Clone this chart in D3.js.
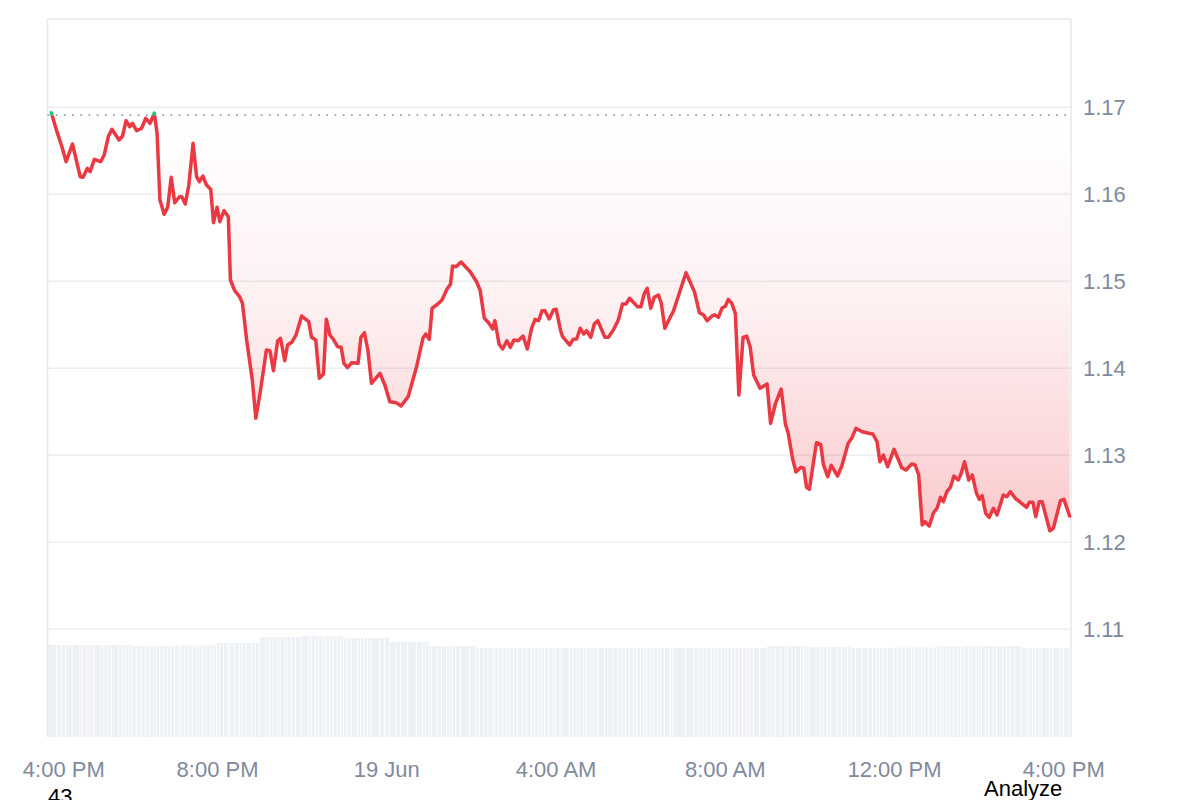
<!DOCTYPE html>
<html>
<head>
<meta charset="utf-8">
<script src="https://cdn.jsdelivr.net/npm/d3@7"></script>
<style>
  html, body { margin: 0; padding: 0; background: #fff; }
  svg { display: block; font-family: "Liberation Sans", Arial, sans-serif; }
</style>
</head>
<body>
<svg id="chart" width="1200" height="800"></svg>
<script>
// ---- data (minutes after 18 Jun 4:00 PM) ----
const minutes = [5,13,20,26,35,46,50,56,60,66,75,80,86,91,101,106,111,116,120,126,133,139,145,151,155,159,165,170,175,180,187,190,195,200,206,211,215,220,225,231,235,240,244,250,256,259,265,272,276,282,290,295,301,310,315,320,326,330,336,340,346,352,360,370,374,380,385,391,395,400,405,411,416,420,425,431,440,444,449,454,459,471,478,485,494,501,511,523,532,536,541,545,553,559,566,571,574,579,586,599,608,613,619,625,631,634,640,645,651,656,661,667,674,680,686,691,696,701,705,711,717,721,727,730,740,745,750,755,760,764,770,775,780,790,795,802,809,815,820,825,831,836,841,846,850,855,860,866,870,875,883,887,905,917,924,930,935,942,946,951,956,961,965,970,975,980,986,991,996,1001,1010,1020,1025,1032,1040,1046,1050,1056,1061,1068,1072,1076,1080,1090,1096,1100,1106,1111,1120,1126,1135,1140,1146,1155,1164,1170,1176,1180,1185,1191,1200,1206,1211,1217,1225,1230,1235,1240,1244,1250,1256,1261,1266,1270,1275,1280,1285,1291,1295,1300,1306,1311,1317,1321,1325,1330,1335,1341,1346,1355,1360,1365,1372,1381,1388,1392,1397,1401,1406,1410,1421,1426,1436,1441,1449];
const prices = [1.16938,1.16720,1.16547,1.16375,1.16578,1.16202,1.16195,1.16299,1.16260,1.16402,1.16375,1.16452,1.16670,1.16747,1.16624,1.16670,1.16846,1.16777,1.16816,1.16731,1.16759,1.16874,1.16816,1.16934,1.16701,1.15934,1.15770,1.15851,1.16195,1.15903,1.15972,1.15972,1.15889,1.16107,1.16586,1.16202,1.16145,1.16210,1.16107,1.16057,1.15674,1.15851,1.15685,1.15812,1.15743,1.15015,1.14892,1.14823,1.14747,1.14325,1.13866,1.13425,1.13713,1.14210,1.14202,1.13972,1.14317,1.14345,1.14087,1.14268,1.14299,1.14383,1.14601,1.14536,1.14356,1.14325,1.13885,1.13935,1.14563,1.14383,1.14333,1.14248,1.14241,1.14057,1.14007,1.14064,1.14057,1.14356,1.14409,1.14202,1.13828,1.13943,1.13808,1.13616,1.13605,1.13567,1.13674,1.14018,1.14345,1.14394,1.14333,1.14690,1.14739,1.14785,1.14908,1.14966,1.15176,1.15168,1.15222,1.15110,1.14995,1.14900,1.14575,1.14524,1.14452,1.14547,1.14276,1.14222,1.14317,1.14241,1.14325,1.14317,1.14371,1.14222,1.14460,1.14563,1.14547,1.14662,1.14662,1.14567,1.14670,1.14678,1.14440,1.14363,1.14268,1.14333,1.14337,1.14460,1.14394,1.14432,1.14356,1.14509,1.14547,1.14356,1.14356,1.14440,1.14555,1.14739,1.14739,1.14805,1.14754,1.14708,1.14708,1.14862,1.14920,1.14690,1.14816,1.14843,1.14747,1.14460,1.14593,1.14651,1.15099,1.14880,1.14639,1.14613,1.14547,1.14601,1.14613,1.14586,1.14690,1.14716,1.14793,1.14747,1.14632,1.13693,1.14356,1.14371,1.14248,1.13923,1.13770,1.13820,1.13368,1.13598,1.13762,1.13360,1.13253,1.12966,1.12808,1.12862,1.12851,1.12632,1.12609,1.13145,1.13126,1.12889,1.12754,1.12885,1.12762,1.12877,1.13138,1.13195,1.13310,1.13271,1.13253,1.13245,1.13156,1.12926,1.13003,1.12869,1.13069,1.12954,1.12857,1.12831,1.12900,1.12889,1.12774,1.12199,1.12237,1.12187,1.12340,1.12391,1.12517,1.12467,1.12582,1.12632,1.12762,1.12716,1.12785,1.12926,1.12716,1.12774,1.12563,1.12494,1.12536,1.12333,1.12287,1.12391,1.12314,1.12544,1.12524,1.12582,1.12506,1.12448,1.12402,1.12460,1.12460,1.12294,1.12467,1.12467,1.12133,1.12161,1.12478,1.12494,1.12302];
const referencePrice = 1.1691;
// hourly volume (arbitrary units), hour 0 = 4 PM
const volumeHours = [0,1,2,3,4,5,6,7,8,9,10,11,12,13,14,15,16,17,18,19,20,21,22,23,24];
const volumes = [9.12,9.12,9.02,9.07,9.31,9.91,10.01,9.81,9.42,9.02,8.82,8.82,8.82,8.82,8.82,8.82,8.82,9.02,8.92,8.82,8.87,9.02,9.02,8.82,8.82];
const yTicks = [1.11,1.12,1.13,1.14,1.15,1.16,1.17];
const startTime = new Date(2025, 5, 18, 16, 0);
const endMinutes = 1451;

// ---- layout ----
const L = 47.5, R = 1071, T = 19, B = 737;
const svg = d3.select("#chart");
const toDate = m => new Date(startTime.getTime() + m * 60000);
const data = minutes.map((m, i) => ({ t: toDate(m), p: prices[i], m }));

const x = d3.scaleTime().domain([startTime, toDate(endMinutes)]).range([L + 0.3, R]);
const y = d3.scaleLinear().domain([1.11, 1.18]).range([629.3, 20.3]);
const yv = d3.scaleLinear().domain([0, 11]).range([B, B - 111]);

const red = "#ea3943", green = "#16c784";
const refY = y(referencePrice);

const defs = svg.append("defs");
const grad = defs.append("linearGradient").attr("id", "fillGrad")
  .attr("gradientUnits", "userSpaceOnUse").attr("x1", 0).attr("x2", 0)
  .attr("y1", refY).attr("y2", y(d3.min(prices)));
grad.append("stop").attr("offset", "0%").attr("stop-color", red).attr("stop-opacity", 0.0);
grad.append("stop").attr("offset", "45%").attr("stop-color", red).attr("stop-opacity", 0.07);
grad.append("stop").attr("offset", "100%").attr("stop-color", red).attr("stop-opacity", 0.27);

defs.append("clipPath").attr("id", "below").append("rect")
  .attr("x", 0).attr("y", refY).attr("width", 1200).attr("height", 800);
defs.append("clipPath").attr("id", "above").append("rect")
  .attr("x", 0).attr("y", 0).attr("width", 1200).attr("height", refY);

// volume bars (one per price sample, value from its hour)
const volAt = m => volumes[Math.min(volumes.length - 1, Math.max(0, d3.bisectRight(volumeHours, m / 60) - 1))];
svg.append("g").selectAll("rect").data(data).join("rect")
  .attr("x", (d, i) => (i === 0 ? L : x(d.t)))
  .attr("width", (d, i) => {
    const x0 = i === 0 ? L : x(d.t);
    const x1 = i < data.length - 1 ? x(data[i + 1].t) : x0 + 0.5;
    return Math.max(0.5, x1 - x0 - 0.9);
  })
  .attr("y", d => yv(volAt(d.m)))
  .attr("height", d => B - yv(volAt(d.m)))
  .attr("fill", "#edf0f4");

// grid lines
svg.append("g").selectAll("line").data(yTicks).join("line")
  .attr("x1", L).attr("x2", R).attr("y1", d => y(d)).attr("y2", d => y(d))
  .attr("stroke", "#eceef2").attr("stroke-width", 1.5);

// frame
const frame = svg.append("g").attr("stroke", "#e6e8ec").attr("stroke-width", 1.5).attr("fill", "none");
frame.append("line").attr("x1", L).attr("x2", L).attr("y1", T).attr("y2", B);
frame.append("line").attr("x1", R).attr("x2", R).attr("y1", T).attr("y2", B);
frame.append("line").attr("x1", L).attr("x2", R).attr("y1", T).attr("y2", T);

// area
const area = d3.area().x(d => x(d.t)).y0(refY).y1(d => y(d.p));
svg.append("path").datum(data).attr("d", area)
  .attr("fill", "url(#fillGrad)").attr("clip-path", "url(#below)");

// reference dotted line
svg.append("line").attr("x1", L).attr("x2", R).attr("y1", refY).attr("y2", refY)
  .attr("stroke", "#9aa1ad").attr("stroke-width", 1.8).attr("stroke-dasharray", "1.8,6.4");

// price line
const line = d3.line().x(d => x(d.t)).y(d => y(d.p));
svg.append("path").datum(data).attr("d", line).attr("fill", "none")
  .attr("stroke", red).attr("stroke-width", 3.5).attr("stroke-linejoin", "round").attr("stroke-linecap", "round")
  .attr("clip-path", "url(#below)");
svg.append("path").datum(data).attr("d", line).attr("fill", "none")
  .attr("stroke", green).attr("stroke-width", 3.5).attr("stroke-linejoin", "round").attr("stroke-linecap", "round")
  .attr("clip-path", "url(#above)");

// y axis
const yAxis = svg.append("g").attr("transform", `translate(${R},0)`)
  .call(d3.axisRight(y).tickValues(yTicks).tickFormat(d3.format(".2f")).tickSize(0).tickPadding(12));
yAxis.select(".domain").remove();
yAxis.selectAll("text").attr("fill", "#808a9d").attr("font-size", 22)
  .attr("font-family", "'Liberation Sans', Arial, sans-serif");

// x axis
const fmt = d => (d.getHours() === 0 ? d3.timeFormat("%-d %b")(d) : d3.timeFormat("%-I:%M %p")(d));
const xAxis = svg.append("g").attr("transform", `translate(0,${B})`)
  .call(d3.axisBottom(x).ticks(d3.timeHour.every(4)).tickFormat(fmt).tickSize(0));
xAxis.select(".domain").remove();
xAxis.selectAll("text").attr("fill", "#808a9d").attr("font-size", 22)
  .attr("font-family", "'Liberation Sans', Arial, sans-serif")
  .attr("dy", null).attr("y", 39.5);
xAxis.selectAll(".tick").filter((d, i) => i === 0).select("text").attr("x", 15.5);

// stray texts
svg.append("text").attr("x", 48).attr("y", 804).attr("font-size", 22).attr("fill", "#000").text("43");
svg.append("text").attr("x", 984).attr("y", 795.5).attr("font-size", 22).attr("fill", "#000").text("Analyze");
</script>
</body>
</html>
